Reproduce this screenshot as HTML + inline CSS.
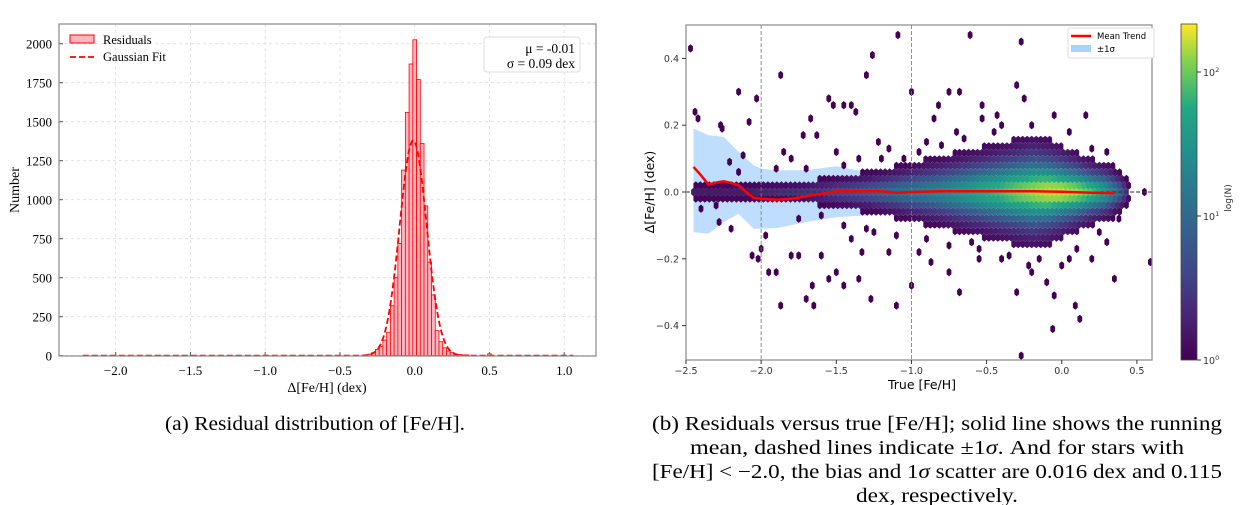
<!DOCTYPE html>
<html><head><meta charset="utf-8"><style>
body{margin:0;background:#fff;width:1240px;height:505px;overflow:hidden}
svg{display:block}
.serif{font-family:"Liberation Serif",serif}
.sans{font-family:"DejaVu Sans","Liberation Sans",sans-serif}
</style></head><body>
<svg id="s" width="1240" height="505" xmlns="http://www.w3.org/2000/svg">
<defs>
<linearGradient id="vir" x1="0" y1="1" x2="0" y2="0">
<stop offset="0" stop-color="#440154"/><stop offset="0.13" stop-color="#482475"/><stop offset="0.25" stop-color="#414487"/><stop offset="0.38" stop-color="#355f8d"/><stop offset="0.5" stop-color="#2a788e"/><stop offset="0.63" stop-color="#21918c"/><stop offset="0.75" stop-color="#22a884"/><stop offset="0.88" stop-color="#7ad151"/><stop offset="1" stop-color="#fde725"/>
</linearGradient>
<clipPath id="rc"><rect x="686" y="25" width="466" height="335"/></clipPath>
<clipPath id="lc"><rect x="59" y="24" width="537" height="332"/></clipPath>
</defs>
<g id="left"></g>
<g id="right"></g>
<text class="serif" x="315" y="430" font-size="20" text-anchor="middle" textLength="300" lengthAdjust="spacingAndGlyphs">(a) Residual distribution of [Fe/H].</text>
<g class="serif" font-size="20" text-anchor="middle">
<text x="937" y="430" textLength="570" lengthAdjust="spacingAndGlyphs">(b) Residuals versus true [Fe/H]; solid line shows the running</text>
<text x="937" y="454" textLength="494" lengthAdjust="spacingAndGlyphs">mean, dashed lines indicate ±1<tspan font-style="italic">σ</tspan>. And for stars with</text>
<text x="937" y="478" textLength="570" lengthAdjust="spacingAndGlyphs">[Fe/H] &lt; −2.0, the bias and 1<tspan font-style="italic">σ</tspan> scatter are 0.016 dex and 0.115</text>
<text x="937" y="502" textLength="162" lengthAdjust="spacingAndGlyphs">dex, respectively.</text>
</g>
</svg>
<script>
// ---- Left chart data ----
const histCenters=[-0.3,-0.275,-0.25,-0.225,-0.2,-0.175,-0.15,-0.125,-0.1,-0.075,-0.05,-0.025,0,0.025,0.05,0.075,0.1,0.125,0.15,0.175,0.2,0.225,0.25,0.275,0.3,0.325,0.35,0.5];
const histCounts=[10,20,40,60,100,150,320,500,720,1190,1560,1870,2025,1770,1360,960,600,390,160,90,50,30,20,10,8,5,5,12];
const histBinWidth=0.025;
const gaussMu=-0.01, gaussSigma=0.09, gaussAmp=1380;
const lxTicks=[-2.0,-1.5,-1.0,-0.5,0.0,0.5,1.0];
const lxLabels=["−2.0","−1.5","−1.0","−0.5","0.0","0.5","1.0"];
const lyTicks=[0,250,500,750,1000,1250,1500,1750,2000];
// ---- Right chart data ----
const trendX=[-2.45,-2.4,-2.35,-2.3,-2.25,-2.2,-2.15,-2.1,-2.05,-2.0,-1.9,-1.8,-1.7,-1.6,-1.5,-1.4,-1.2,-1.1,-1.0,-0.8,-0.5,-0.2,0.0,0.2,0.35];
const trendMean=[0.075,0.05,0.022,0.028,0.032,0.027,0.02,0.0,-0.017,-0.02,-0.023,-0.02,-0.013,-0.005,0.002,0.002,0.002,-0.002,0.0,0.002,0.002,0.002,0.001,-0.002,-0.004];
const bandX=[-2.45,-2.35,-2.25,-2.15,-2.05,-2.0,-1.9,-1.7,-1.5,-1.3,-1.1,-0.9,-0.5,0.0,0.35];
const bandUpper=[0.19,0.17,0.165,0.12,0.08,0.07,0.065,0.065,0.077,0.06,0.045,0.045,0.045,0.04,0.035];
const bandLower=[-0.12,-0.125,-0.09,-0.065,-0.11,-0.11,-0.108,-0.09,-0.075,-0.07,-0.05,-0.045,-0.045,-0.04,-0.04];
const coreX=[-2.45,-2.3,-2.1,-2.0,-1.8,-1.6,-1.5,-1.3,-1.1,-1.0,-0.8,-0.6,-0.5,-0.3,-0.2,-0.1,0.0,0.1,0.2,0.3,0.4,0.45];
const corePeakLog=[0.2,0.2,0.2,0.3,0.4,0.5,0.6,0.8,1.0,1.1,1.3,1.6,1.75,2.0,2.1,2.2,2.2,2.1,1.9,1.5,0.8,0.2];
const coreExtent=[0.03,0.03,0.03,0.03,0.03,0.04,0.05,0.06,0.08,0.09,0.11,0.13,0.14,0.16,0.17,0.16,0.14,0.12,0.1,0.09,0.06,0.03];
const outliers=[[-2.47,0.43],[-2.44,0.24],[-2.42,0.22],[-2.27,0.2],[-2.26,0.19],[-2.15,0.3],[-2.08,0.21],[-2.03,0.28],[-2.12,0.11],[-2.21,0.09],[-1.87,0.35],[-1.85,0.12],[-1.9,0.07],[-1.72,0.17],[-1.67,0.22],[-1.63,0.17],[-1.55,0.28],[-1.52,0.26],[-1.45,0.26],[-1.4,0.26],[-1.37,0.24],[-1.3,0.35],[-1.26,0.41],[-1.22,0.15],[-1.09,0.47],[-1.0,0.3],[-0.82,0.26],[-0.75,0.3],[-0.68,0.3],[-0.61,0.47],[-0.53,0.26],[-0.27,0.45],[-0.3,0.32],[-0.25,0.28],[-0.05,0.23],[0.16,0.23],[-0.85,0.22],[-0.43,0.23],[-0.53,0.22],[-2.2,-0.11],[-2.28,-0.09],[-2.06,-0.19],[-2.02,-0.2],[-1.95,-0.24],[-1.9,-0.24],[-1.87,-0.34],[-1.8,-0.19],[-1.75,-0.19],[-1.7,-0.32],[-1.65,-0.34],[-1.66,-0.28],[-1.6,-0.19],[-1.55,-0.26],[-1.5,-0.24],[-1.45,-0.28],[-1.35,-0.26],[-1.33,-0.18],[-1.27,-0.32],[-1.1,-0.34],[-1.0,-0.28],[-0.95,-0.18],[-0.75,-0.24],[-0.68,-0.3],[-0.55,-0.2],[-0.3,-0.3],[-0.27,-0.49],[-0.1,-0.27],[-0.05,-0.31],[-0.06,-0.41],[0.09,-0.34],[0.12,-0.38],[0.35,-0.26],[0.59,-0.21],[0.55,0.0],[-1.97,-0.13],[-2.0,-0.17],[-1.4,-0.14],[-1.15,-0.18],[-0.87,-0.21],[0.0,-0.22],[0.05,-0.2],[-0.2,-0.24],[-0.22,-0.22],[-1.2,0.1],[-1.5,0.12],[-1.05,0.1],[-0.9,0.15],[-0.7,0.18],[-0.4,0.2],[0.3,0.12],[-0.6,-0.15],[-0.4,-0.2],[0.2,-0.2],[0.3,-0.15],[-1.8,0.1],[-2.3,-0.04],[-2.35,0.0],[-1.25,-0.12],[-1.45,0.08],[-1.35,0.1],[-1.15,0.13],[-0.95,0.12],[-0.8,0.14],[-0.65,0.16],[-0.45,0.18],[-0.2,0.2],[0.05,0.18],[0.2,0.13],[-1.45,-0.1],[-1.3,-0.11],[-1.1,-0.13],[-0.9,-0.14],[-0.75,-0.16],[-0.55,-0.17],[-0.35,-0.19],[-0.15,-0.2],[0.1,-0.17],[0.25,-0.12],[0.38,-0.08],[-1.7,0.07],[-1.6,-0.07],[-1.75,-0.08],[-2.15,0.06],[-2.4,-0.05]];
const rxTicks=[-2.5,-2.0,-1.5,-1.0,-0.5,0.0,0.5];
const rxLabels=["−2.5","−2.0","−1.5","−1.0","−0.5","0.0","0.5"];
const ryTicks=[-0.4,-0.2,0.0,0.2,0.4];
const ryLabels=["−0.4","−0.2","0.0","0.2","0.4"];

const NS="http://www.w3.org/2000/svg";
function mk(tag,attrs,parent,txt){const e=document.createElementNS(NS,tag);for(const k in attrs)e.setAttribute(k,attrs[k]);if(txt!==undefined)e.textContent=txt;parent.appendChild(e);return e;}
const LX=v=>414.7+v*149.5, LY=v=>355.7-v*0.156;
const RX=v=>686+(v+2.5)*150.3, RY=v=>192-v*334;
function interp(xs,ys,x){if(x<=xs[0])return ys[0];for(let i=1;i<xs.length;i++){if(x<=xs[i]){const t=(x-xs[i-1])/(xs[i]-xs[i-1]);return ys[i-1]+t*(ys[i]-ys[i-1]);}}return ys[ys.length-1];}

// ===== LEFT =====
const L=document.getElementById('left');
lyTicks.forEach(t=>{const g=mk('line',{x1:59,x2:596,y1:LY(t),y2:LY(t),stroke:'#ddd','stroke-dasharray':'3,3','stroke-width':0.8},L);

const tx=mk('text',{x:52,y:LY(t)+5,'text-anchor':'end','font-size':13,class:'serif'},L,String(t));

mk('line',{x1:59,x2:63,y1:LY(t),y2:LY(t),stroke:'#555'},L);});
lxTicks.forEach((t,i)=>{const g=mk('line',{x1:LX(t),x2:LX(t),y1:24,y2:356,stroke:'#ddd','stroke-dasharray':'3,3','stroke-width':0.8},L);

const tx=mk('text',{x:LX(t),y:375,'text-anchor':'middle','font-size':13,class:'serif'},L,lxLabels[i]);

mk('line',{x1:LX(t),x2:LX(t),y1:356,y2:352,stroke:'#555'},L);});
const hg=mk('g',{'clip-path':'url(#lc)'},L);
histCenters.forEach((c,i)=>{const x0=LX(c-histBinWidth/2),x1=LX(c+histBinWidth/2);
const r=mk('rect',{x:x0,y:LY(histCounts[i]),width:x1-x0,height:LY(0)-LY(histCounts[i]),fill:'#ffb6c1',stroke:'#f00','stroke-width':0.8},hg);
});
let gp='';for(let v=-2.22;v<=1.06;v+=0.005){const y=gaussAmp*Math.exp(-0.5*Math.pow((v-gaussMu)/gaussSigma,2));gp+=(gp?'L':'M')+LX(v).toFixed(1)+','+LY(y).toFixed(1);}
const gl=mk('path',{d:gp,fill:'none',stroke:'#f00','stroke-width':1.8,'stroke-dasharray':'6,3'},hg);

mk('rect',{x:59,y:24,width:537,height:332,fill:'none',stroke:'#888','stroke-width':1.2},L);
const ylab=mk('text',{x:0,y:0,transform:'translate(19,190) rotate(-90)','text-anchor':'middle','font-size':14,class:'serif'},L,'Number');

const xlab=mk('text',{x:327,y:392,'text-anchor':'middle','font-size':14,class:'serif'},L,'Δ[Fe/H] (dex)');

const lg=mk('g',{},L);
mk('rect',{x:70,y:35,width:24,height:8,fill:'#ffb6c1',stroke:'#f00'},lg);
mk('text',{x:103,y:44,'font-size':12.5,class:'serif'},lg,'Residuals');
mk('line',{x1:70,x2:94,y1:57,y2:57,stroke:'#f00','stroke-width':1.8,'stroke-dasharray':'6,3'},lg);
mk('text',{x:103,y:61,'font-size':12.5,class:'serif'},lg,'Gaussian Fit');
const sb=mk('g',{},L);
mk('rect',{x:484,y:37,width:96,height:35,rx:3,fill:'#fff',stroke:'#ddd'},sb);
mk('text',{x:575,y:53,'text-anchor':'end','font-size':13.5,class:'serif'},sb,'μ = -0.01');
mk('text',{x:575,y:68,'text-anchor':'end','font-size':13.5,class:'serif'},sb,'σ = 0.09 dex');

// ===== RIGHT =====
const R=document.getElementById('right');
const VIR=[[68,1,84],[72,36,117],[65,68,135],[53,95,141],[42,120,142],[33,145,140],[34,168,132],[122,209,81],[253,231,37]];
function vir(t){t=Math.max(0,Math.min(1,t))*8;const i=Math.min(7,Math.floor(t)),f=t-i;const a=VIR[i],b=VIR[i+1];return 'rgb('+a.map((c,k)=>Math.round(c+f*(b[k]-c))).join(',')+')';}
const CMAX=2.33;
const bp=bandX.map((x,i)=>RX(x).toFixed(1)+','+RY(bandUpper[i]).toFixed(1)).concat(bandX.slice().reverse().map((x,i)=>RX(x).toFixed(1)+','+RY(bandLower[bandX.length-1-i]).toFixed(1)));
const band=mk('polygon',{points:bp.join(' '),fill:'#a8d2ff','fill-opacity':0.75},R);

const pg=mk('g',{'clip-path':'url(#rc)'},R);
function hex(cx,cy,col,nm){const w=2.4,h=4.2;const pts=[[cx,cy-h],[cx+w,cy-h/2],[cx+w,cy+h/2],[cx,cy+h],[cx-w,cy+h/2],[cx-w,cy-h/2]].map(p=>p[0].toFixed(1)+','+p[1].toFixed(1)).join(' ');
const e=mk('polygon',{points:pts,fill:col},pg);}
outliers.forEach(p=>hex(RX(p[0]),RY(p[1]),vir(0),'hexbin-outlier'));
const dxh=0.03,dyh=0.0195;
for(let j=-12;j<=12;j++){const yy=j*dyh;const off=(Math.abs(j)%2)*dxh/2;
for(let xx=-2.48+off;xx<=0.5;xx+=dxh){if(xx<coreX[0]||xx>coreX[coreX.length-1])continue;const ext=interp(coreX,coreExtent,xx);if(Math.abs(yy)>ext)continue;
const pk=interp(coreX,corePeakLog,xx);const val=pk*Math.exp(-0.5*Math.pow(yy/(0.4*ext),2));hex(RX(xx),RY(yy),vir(val/CMAX),'hexbin-cell');}}
[-2.0,-1.0].forEach(v=>{const l=mk('line',{x1:RX(v),x2:RX(v),y1:25,y2:360,stroke:'#777','stroke-dasharray':'4,2','stroke-width':0.8},R);
});
const zl=mk('line',{x1:686,x2:1152,y1:RY(0),y2:RY(0),stroke:'#333','stroke-dasharray':'4,2','stroke-width':1},R);

const tp=trendX.map((x,i)=>(i?'L':'M')+RX(x).toFixed(1)+','+RY(trendMean[i]).toFixed(1)).join('');
const tl=mk('path',{d:tp,fill:'none',stroke:'#f00','stroke-width':2.5},R);

mk('rect',{x:686,y:25,width:466,height:335,fill:'none',stroke:'#888','stroke-width':1.2},R);
ryTicks.forEach((t,i)=>{mk('line',{x1:682,x2:686,y1:RY(t),y2:RY(t),stroke:'#333'},R);
const tx=mk('text',{x:679,y:RY(t)+3.5,'text-anchor':'end','font-size':9.5,class:'sans',fill:'#333'},R,ryLabels[i]);
});
rxTicks.forEach((t,i)=>{mk('line',{x1:RX(t),x2:RX(t),y1:360,y2:364,stroke:'#333'},R);
const tx=mk('text',{x:RX(t),y:374,'text-anchor':'middle','font-size':9.5,class:'sans',fill:'#333'},R,rxLabels[i]);
});
const rxl=mk('text',{x:922,y:389,'text-anchor':'middle','font-size':12.5,class:'sans'},R,'True [Fe/H]');

const ryl=mk('text',{x:0,y:0,transform:'translate(654,192) rotate(-90)','text-anchor':'middle','font-size':12.5,class:'sans'},R,'Δ[Fe/H] (dex)');

const rl=mk('g',{},R);
mk('rect',{x:1068,y:28,width:86,height:30,rx:2,fill:'#fff',stroke:'#ddd'},rl);
mk('line',{x1:1071,x2:1091,y1:36,y2:36,stroke:'#f00','stroke-width':2.5},rl);
mk('text',{x:1097,y:39,'font-size':8.5,class:'sans'},rl,'Mean Trend');
mk('rect',{x:1071,y:45,width:20,height:7,fill:'#a8d2ff'},rl);
mk('text',{x:1097,y:52,'font-size':8.5,class:'sans'},rl,'±1σ');
const cb=mk('g',{},R);
mk('rect',{x:1181,y:24,width:16,height:336,fill:'url(#vir)',stroke:'#444','stroke-width':0.8},cb);
[[0,'0'],[1,'1'],[2,'2']].forEach(d=>{const y=360-d[0]*144;mk('line',{x1:1197,x2:1201,y1:y,y2:y,stroke:'#333'},cb);
const t=mk('text',{x:1203,y:y+4,'font-size':9.5,class:'sans',fill:'#333'},cb);t.innerHTML='10<tspan dy="-4" font-size="6.5">'+d[1]+'</tspan>';});
const cbl=mk('text',{x:0,y:0,transform:'translate(1231,198) rotate(-90)','text-anchor':'middle','font-size':9,class:'sans',fill:'#333'},cb,'log(N)');

</script>
</body></html>
